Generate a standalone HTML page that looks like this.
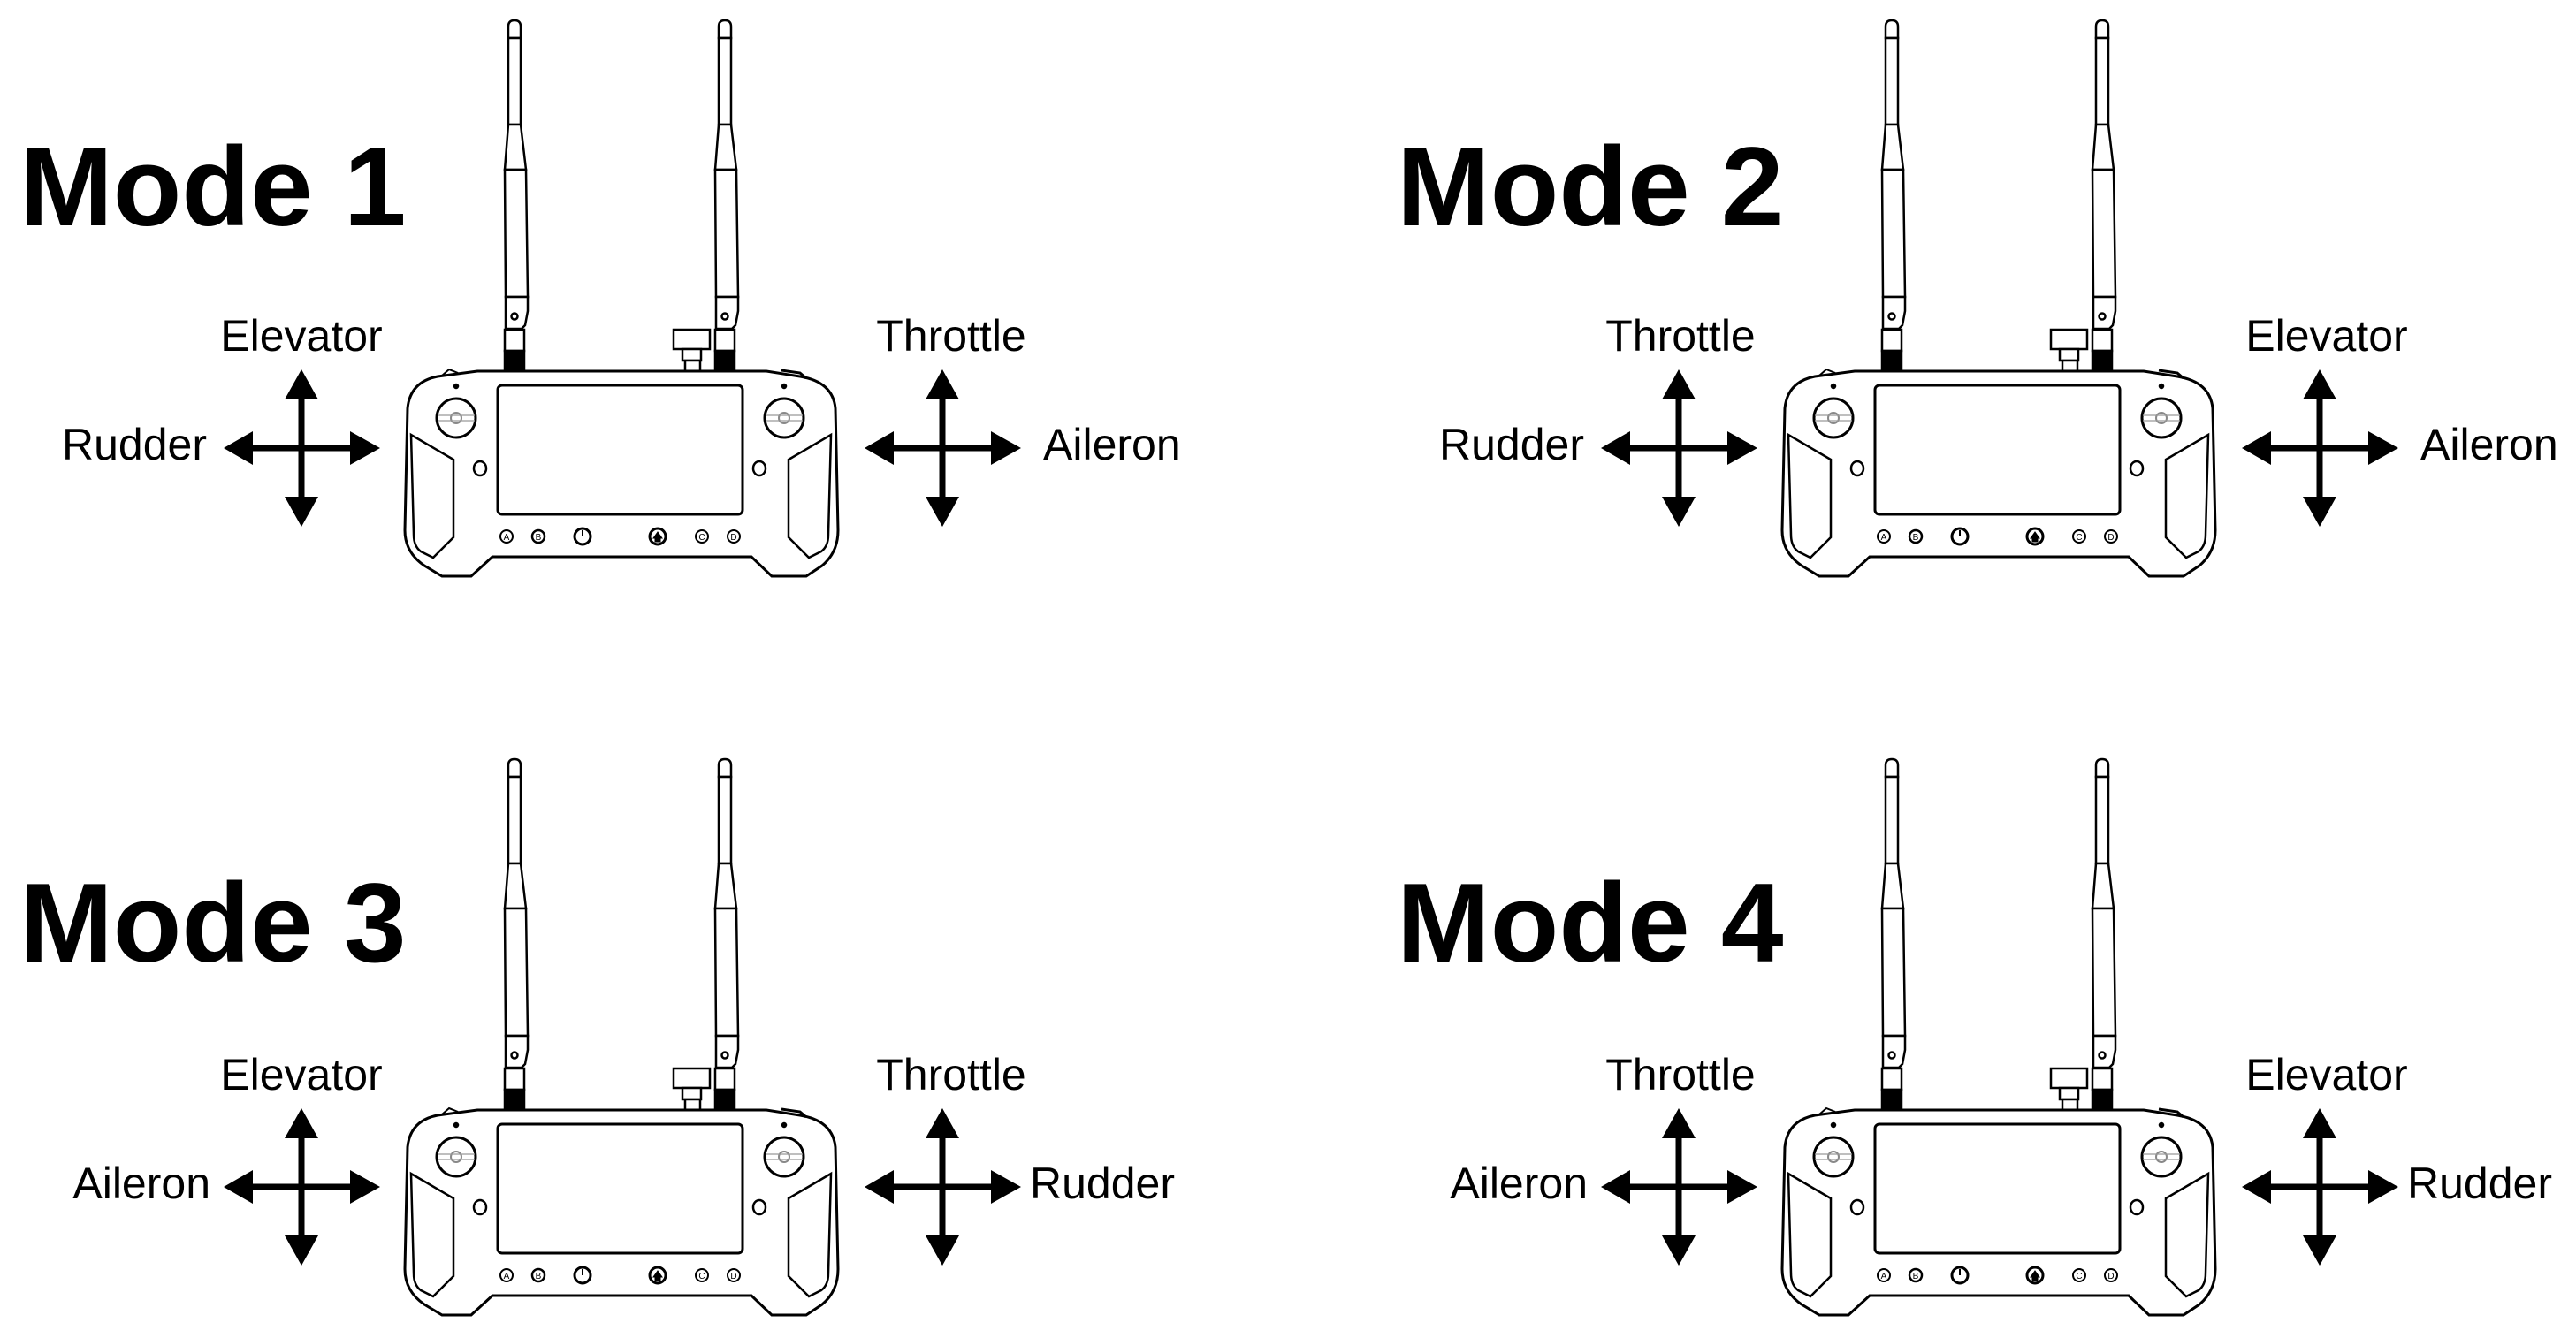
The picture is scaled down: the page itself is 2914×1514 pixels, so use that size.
<!DOCTYPE html>
<html><head><meta charset="utf-8"><style>
html,body{margin:0;padding:0;background:#fff;}
svg{display:block;}
.t{font-family:"Liberation Sans",sans-serif;font-weight:bold;font-size:127px;fill:#000;}
.l{font-family:"Liberation Sans",sans-serif;font-size:50px;fill:#000;}
.b{font-family:"Liberation Sans",sans-serif;font-size:10px;fill:#000;}
</style></head><body>
<svg width="2914" height="1514" viewBox="0 0 2914 1514" xmlns="http://www.w3.org/2000/svg">
<defs>
<g id="ant" fill="#fff" stroke="#000" stroke-width="2.5">
  <path d="M-7,43 L-7,30 Q-7,23 0,23 Q7,23 7,30 L7,43 Z"/>
  <path d="M-7,43 L7,43 L7,141 L-7,141 Z"/>
  <path d="M-7,141 L7,141 L13,192 L-11,192 Z"/>
  <path d="M-11,192 L13,192 L15,336 L-10,336 Z"/>
  <path d="M-10,336 L15,336 L15,352 L12,368 L8,372 L-10,372 Z"/>
  <circle cx="0" cy="358" r="3.5"/>
  <rect x="-11" y="373" width="22" height="24"/>
  <rect x="-11" y="397" width="22" height="21" fill="#000"/>
</g>
<g id="ctl" fill="none" stroke="#000" stroke-width="2.5">
  <use href="#ant" transform="translate(582,0)"/>
  <use href="#ant" transform="translate(820,0)"/>
  <rect x="762" y="373" width="41" height="22" fill="#fff"/>
  <rect x="772" y="395" width="21" height="13" fill="#fff"/>
  <rect x="775" y="408" width="17" height="12" fill="#fff"/>
  <path d="M540,420 L867,420 L905,426 Q942,432 945,462 L948,600 Q948,625 930,640 L912,652 L873,652 L850,630 L557,630 L533,652 L500,652 L480,640 Q458,625 458,600 L461,462 Q464,432 495,426 Z" fill="#fff" stroke-width="3"/>
  <path d="M500,425 L508,418 L518,422" stroke-width="2"/>
  <path d="M884,419 L905,422 L912,428" stroke-width="3"/>
  <rect x="563" y="436" width="277" height="146" rx="5" stroke-width="3"/>
  <circle cx="516" cy="473" r="22" stroke-width="3"/>
  <circle cx="887" cy="473" r="22" stroke-width="3"/>
  <circle cx="516" cy="473" r="6" stroke="#888" stroke-width="2"/>
  <circle cx="887" cy="473" r="6" stroke="#888" stroke-width="2"/>
  <path d="M495,470 L537,470 M495,476 L537,476 M866,470 L908,470 M866,476 L908,476" stroke="#999" stroke-width="1.2"/>
  <circle cx="516" cy="437" r="2" fill="#000"/>
  <circle cx="887" cy="437" r="2" fill="#000"/>
  <path d="M465,492 L513,520 L513,608 L490,631 L476,624 Q468,618 468,605 Z" stroke-width="2.5"/>
  <path d="M940,492 L892,520 L892,608 L915,631 L929,624 Q937,618 937,605 Z" stroke-width="2.5"/>
  <ellipse cx="543" cy="530" rx="7" ry="8"/>
  <ellipse cx="859" cy="530" rx="7" ry="8"/>
  <circle cx="573" cy="607" r="7" stroke-width="2"/>
  <circle cx="609" cy="607" r="7" stroke-width="2.5"/>
  <circle cx="659" cy="607" r="9" stroke-width="3"/>
  <circle cx="744" cy="607" r="9" stroke-width="3"/>
  <circle cx="794" cy="607" r="7" stroke-width="2"/>
  <circle cx="830" cy="607" r="7" stroke-width="2"/>
  <path d="M659,600 L659,607" stroke-width="2"/>
  <path d="M739,609 L744,602 L749,609 L747,609 L747,613 L741,613 L741,609 Z" fill="#000" stroke-width="1"/>
  <g stroke="none">
    <text class="b" x="573" y="611" text-anchor="middle">A</text>
    <text class="b" x="609" y="611" text-anchor="middle">B</text>
    <text class="b" x="794" y="611" text-anchor="middle">C</text>
    <text class="b" x="830" y="611" text-anchor="middle">D</text>
  </g>
</g>
<g id="cross">
  <path d="M0,-55 L0,55 M-55,0 L55,0" stroke="#000" stroke-width="7"/>
  <path d="M0,-89 L-19,-55 L19,-55 Z M0,89 L-19,55 L19,55 Z M-88,0 L-55,-19 L-55,19 Z M89,0 L55,-19 L55,19 Z" fill="#000"/>
</g>
</defs>

<g>
  <use href="#ctl"/>
  <use href="#cross" x="341" y="507"/>
  <use href="#cross" x="1066" y="507"/>
  <text class="t" x="22" y="255">Mode 1</text>
  <text class="l" x="341" y="397" text-anchor="middle">Elevator</text>
  <text class="l" x="234" y="520" text-anchor="end">Rudder</text>
  <text class="l" x="1076" y="397" text-anchor="middle">Throttle</text>
  <text class="l" x="1180" y="520">Aileron</text>
</g>
<g transform="translate(1558,0)">
  <use href="#ctl"/>
  <use href="#cross" x="341" y="507"/>
  <use href="#cross" x="1066" y="507"/>
  <text class="t" x="22" y="255">Mode 2</text>
  <text class="l" x="343" y="397" text-anchor="middle">Throttle</text>
  <text class="l" x="234" y="520" text-anchor="end">Rudder</text>
  <text class="l" x="1074" y="397" text-anchor="middle">Elevator</text>
  <text class="l" x="1180" y="520">Aileron</text>
</g>
<g transform="translate(0,836)">
  <use href="#ctl"/>
  <use href="#cross" x="341" y="507"/>
  <use href="#cross" x="1066" y="507"/>
  <text class="t" x="22" y="252">Mode 3</text>
  <text class="l" x="341" y="397" text-anchor="middle">Elevator</text>
  <text class="l" x="238" y="520" text-anchor="end">Aileron</text>
  <text class="l" x="1076" y="397" text-anchor="middle">Throttle</text>
  <text class="l" x="1165" y="520">Rudder</text>
</g>
<g transform="translate(1558,836)">
  <use href="#ctl"/>
  <use href="#cross" x="341" y="507"/>
  <use href="#cross" x="1066" y="507"/>
  <text class="t" x="22" y="252">Mode 4</text>
  <text class="l" x="343" y="397" text-anchor="middle">Throttle</text>
  <text class="l" x="238" y="520" text-anchor="end">Aileron</text>
  <text class="l" x="1074" y="397" text-anchor="middle">Elevator</text>
  <text class="l" x="1165" y="520">Rudder</text>
</g>
</svg>
</body></html>
